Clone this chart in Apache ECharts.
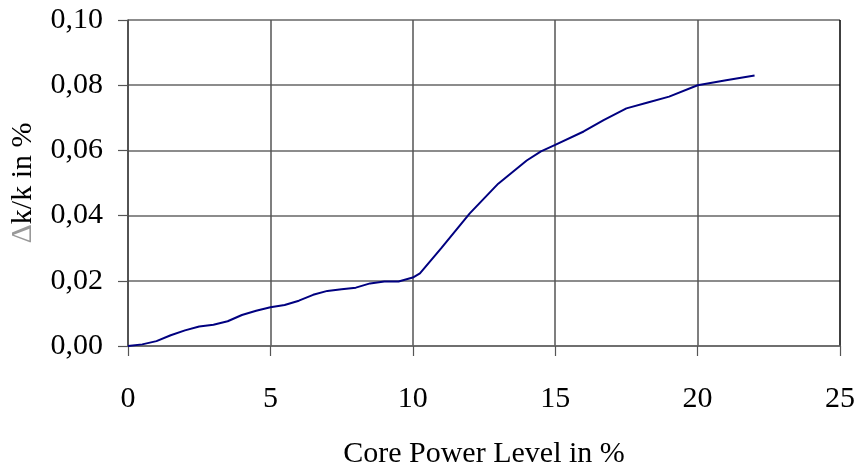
<!DOCTYPE html>
<html>
<head>
<meta charset="utf-8">
<style>
  html, body { margin: 0; padding: 0; background: #fff; }
  #chart { width: 859px; height: 474px; }
</style>
<script src="https://cdn.jsdelivr.net/npm/echarts@6/dist/echarts.min.js"></script>
</head>
<body>
<div id="chart"></div>
<script>
// Core power level (%) and the corresponding reactivity change Δk/k (%)
const powerLevel = [0, 0.5, 1, 1.5, 2, 2.5, 3, 3.5, 4, 4.5, 5, 5.5, 6, 6.5, 7, 7.5, 8, 8.5, 9, 9.5,
                    10, 10.25, 11, 12, 13, 14, 14.5, 15, 16, 16.7, 17.5, 18.25, 19, 20, 21, 22];
const reactivity = [0, 0.0005, 0.0015, 0.0033, 0.0048, 0.006, 0.0065, 0.0076, 0.0095, 0.0108,
                    0.0119, 0.0126, 0.0139, 0.0157, 0.0169, 0.0174, 0.0179, 0.0192, 0.0198, 0.0198,
                    0.021, 0.0223, 0.030, 0.0407, 0.0498, 0.0569, 0.0597, 0.0617, 0.0658, 0.0693,
                    0.0729, 0.0747, 0.0765, 0.080, 0.0815, 0.083];
const xTicks = [0, 5, 10, 15, 20, 25];
const yTicks = [0, 0.02, 0.04, 0.06, 0.08, 0.10];

const FONT = '"Liberation Serif", "Times New Roman", serif';
const chart = echarts.init(document.getElementById('chart'));

chart.setOption({
  backgroundColor: '#ffffff',
  animation: false,
  grid: { left: 128, right: 19, top: 20, bottom: 125, containLabel: false },
  xAxis: {
    type: 'value',
    min: xTicks[0],
    max: xTicks[xTicks.length - 1],
    interval: 5,
    name: 'Core Power Level in %',
    nameLocation: 'middle',
    nameGap: 93,
    nameTextStyle: { fontFamily: FONT, fontSize: 30, color: '#000' },
    axisLine: { show: true, onZero: false, lineStyle: { color: '#666', width: 1.5 } },
    axisTick: { show: true, inside: false, length: 10, lineStyle: { color: '#555', width: 1.2 } },
    axisLabel: { fontFamily: FONT, fontSize: 30, color: '#000', margin: 38 },
    splitLine: {
      show: true,
      lineStyle: { color: ['#555', '#555', '#555', '#555', '#555', '#000'], width: 1.5 }
    }
  },
  yAxis: {
    type: 'value',
    min: yTicks[0],
    max: yTicks[yTicks.length - 1],
    interval: 0.02,
    name: '{d|Δ}k/k in %',
    nameLocation: 'middle',
    nameGap: 90,
    nameRotate: 90,
    nameTextStyle: {
      fontFamily: FONT, fontSize: 30, color: '#000',
      rich: { d: { fontFamily: FONT, fontSize: 30, color: '#999' } }
    },
    axisLine: { show: true, lineStyle: { color: '#444', width: 1.5 } },
    axisTick: { show: true, inside: false, length: 10, lineStyle: { color: '#555', width: 1.2 } },
    axisLabel: {
      fontFamily: FONT, fontSize: 30, color: '#000', margin: 25,
      formatter: v => v.toFixed(2).replace('.', ',')
    },
    splitLine: { show: true, lineStyle: { color: '#666', width: 1.5 } }
  },
  series: [{
    type: 'line',
    data: powerLevel.map((p, i) => [p, reactivity[i]]),
    showSymbol: false,
    smooth: false,
    lineStyle: { color: '#000080', width: 2 },
    clip: false
  }]
});
</script>
</body>
</html>
